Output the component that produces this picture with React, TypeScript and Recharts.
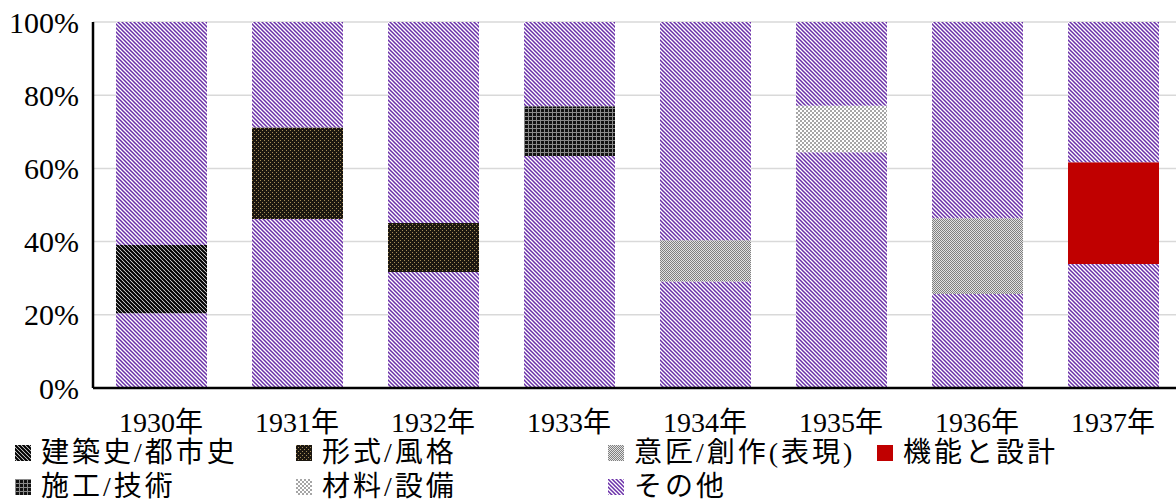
import { BarChart, Bar, XAxis, YAxis, CartesianGrid } from "recharts";

// years on the category axis
const years = ["1930年", "1931年", "1932年", "1933年", "1934年", "1935年", "1936年", "1937年"];

// which topic is highlighted in each year
const topicOfYear = [
  "建築史/都市史",
  "形式/風格",
  "形式/風格",
  "施工/技術",
  "意匠/創作(表現)",
  "材料/設備",
  "意匠/創作(表現)",
  "機能と設計",
];

// shares in percent, bottom to top
const otherBelow = [20.4, 46.2, 31.7, 63.4, 29.1, 64.4, 25.7, 33.9];
const topicShare = [18.7, 25.0, 13.4, 13.6, 11.3, 12.7, 20.7, 27.8];
const otherAbove = [60.9, 28.8, 54.9, 23.0, 59.6, 22.9, 53.6, 38.3];

const yTicks = [0, 20, 40, 60, 80, 100];

const topics = [
  { key: "建築史/都市史", fill: "url(#pHist)" },
  { key: "形式/風格", fill: "url(#pForm)" },
  { key: "施工/技術", fill: "url(#pWork)" },
  { key: "意匠/創作(表現)", fill: "url(#pDesign)" },
  { key: "材料/設備", fill: "url(#pMat)" },
  { key: "機能と設計", fill: "#C00000" },
];

const data = years.map((year, i) => {
  const row: Record<string, string | number> = {
    year,
    otherLow: otherBelow[i],
    otherHigh: otherAbove[i],
  };
  topics.forEach((t) => {
    row[t.key] = topicOfYear[i] === t.key ? topicShare[i] : 0;
  });
  return row;
});

const font = '"Liberation Serif", "Times New Roman", "Noto Sans CJK JP", serif';

const legendItems = [
  { name: "建築史/都市史", fill: "url(#pHist)", x: 15, row: 0 },
  { name: "形式/風格", fill: "url(#pForm)", x: 296, row: 0 },
  { name: "意匠/創作(表現)", fill: "url(#pDesign)", x: 608, row: 0 },
  { name: "機能と設計", fill: "#C00000", x: 877, row: 0 },
  { name: "施工/技術", fill: "url(#pWork)", x: 15, row: 1 },
  { name: "材料/設備", fill: "url(#pMat)", x: 296, row: 1 },
  { name: "その他", fill: "url(#pOther)", x: 608, row: 1 },
];

function Patterns() {
  return (
    <defs>
      <pattern id="pOther" width="4" height="4" patternUnits="userSpaceOnUse">
        <rect width="4" height="4" fill="#fff" />
        <path d="M-1,-1 L5,5 M-1,3 L1,5 M3,-1 L5,1" stroke="#6a2fa8" strokeWidth="1.5" />
      </pattern>
      <pattern id="pHist" width="4" height="4" patternUnits="userSpaceOnUse">
        <rect width="4" height="4" fill="#fff" />
        <path d="M-1,-1 L5,5 M-1,3 L1,5 M3,-1 L5,1" stroke="#000" strokeWidth="2.2" />
      </pattern>
      <pattern id="pForm" width="4" height="4" patternUnits="userSpaceOnUse">
        <rect width="4" height="4" fill="#1c1710" />
        <rect x="0" y="0" width="1" height="1" fill="#a48c58" />
        <rect x="2" y="2" width="1" height="1" fill="#a48c58" />
      </pattern>
      <pattern id="pWork" width="4" height="4" patternUnits="userSpaceOnUse">
        <rect width="4" height="4" fill="#111" />
        <rect x="0" y="0" width="1" height="4" fill="#8a8a8a" />
        <rect x="0" y="0" width="4" height="1" fill="#8a8a8a" />
      </pattern>
      <pattern id="pDesign" width="2" height="2" patternUnits="userSpaceOnUse">
        <rect width="2" height="2" fill="#e2e2e2" />
        <rect x="0" y="0" width="1" height="1" fill="#808080" />
        <rect x="1" y="1" width="1" height="1" fill="#808080" />
      </pattern>
      <pattern id="pMat" width="4" height="4" patternUnits="userSpaceOnUse">
        <rect width="4" height="4" fill="#fff" />
        <rect x="0" y="0" width="2" height="2" fill="#a6a6a6" />
        <rect x="2" y="2" width="2" height="2" fill="#a6a6a6" />
      </pattern>
    </defs>
  );
}

export default function App() {
  return (
    <div
      style={{
        position: "absolute",
        left: 0,
        top: 0,
        width: 1176,
        height: 503,
        overflow: "hidden",
        background: "#fff",
        fontFamily: font,
      }}
    >
      <BarChart
        width={1182}
        height={503}
        data={data}
        margin={{ top: 22, right: 1, left: 0, bottom: 75 }}
        barSize={91}
      >
        <Patterns />
        <CartesianGrid vertical={false} stroke="#d9d9d9" strokeWidth={1.5} />
        <XAxis
          dataKey="year"
          height={40}
          tickLine={false}
          axisLine={{ stroke: "#000", strokeWidth: 2.5 }}
          tick={{ fill: "#000", fontSize: 28, fontFamily: font }}
          tickMargin={18}
          interval={0}
        />
        <YAxis
          width={93}
          domain={[0, 100]}
          ticks={yTicks}
          tickFormatter={(v) => `${v}%`}
          tickLine={false}
          axisLine={{ stroke: "#000", strokeWidth: 2.5 }}
          tick={{ fill: "#000", fontSize: 30, fontFamily: font }}
          tickMargin={8}
        />
        <Bar dataKey="otherLow" stackId="a" fill="url(#pOther)" isAnimationActive={false} />
        {topics.map((t) => (
          <Bar key={t.key} dataKey={t.key} stackId="a" fill={t.fill} isAnimationActive={false} />
        ))}
        <Bar dataKey="otherHigh" stackId="a" fill="url(#pOther)" isAnimationActive={false} />
      </BarChart>

      {legendItems.map((item) => (
        <div
          key={item.name}
          style={{
            position: "absolute",
            left: item.x,
            top: item.row === 0 ? 439 : 473,
            height: 28,
            lineHeight: "28px",
            display: "flex",
            alignItems: "center",
            fontSize: 28,
            letterSpacing: 3,
            color: "#000",
            whiteSpace: "nowrap",
          }}
        >
          <svg width={16} height={16} style={{ marginRight: 10 }}>
            <rect width={16} height={16} fill={item.fill} />
          </svg>
          <span>{item.name}</span>
        </div>
      ))}
    </div>
  );
}
